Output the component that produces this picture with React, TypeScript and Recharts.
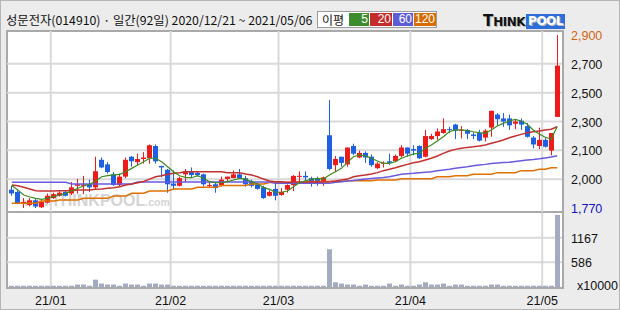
import { Bar, CartesianGrid, ComposedChart, Line, XAxis, YAxis } from "recharts";

// daily prices, 2020/12/21 .. 2021/05/06 (92 sessions)
const OPEN = [
  1890, 1875, 1800, 1790, 1820, 1775, 1805, 1835, 1850, 1875,
  1865, 1915, 1915, 1925, 1905, 2085, 2055, 1990, 1920, 1975,
  2105, 2070, 2090, 2095, 2175, 2045, 2020, 1930, 1915, 1990,
  2010, 2000, 1990, 1915, 1925, 1920, 1960, 1965, 1990, 1965,
  1945, 1925, 1905, 1850, 1895, 1855, 1890, 1920, 1975, 1980,
  1965, 1960, 1940, 2245, 2050, 2105, 2055, 2175, 2100, 2130,
  2105, 2030, 2060, 2075, 2075, 2110, 2165, 2155, 2175, 2105,
  2220, 2240, 2260, 2285, 2315, 2275, 2280, 2250, 2260, 2230,
  2295, 2380, 2355, 2355, 2320, 2340, 2305, 2230, 2175, 2215,
  2145, 2365,
];
const HIGH = [
  1915, 1885, 1835, 1835, 1835, 1820, 1865, 1870, 1880, 1885,
  1940, 1960, 1980, 1955, 2105, 2100, 2070, 2005, 1995, 2100,
  2110, 2125, 2135, 2185, 2185, 2045, 2025, 2015, 1975, 2025,
  2035, 2010, 1995, 1940, 1935, 1975, 1975, 2015, 2025, 1980,
  1955, 1935, 1915, 1885, 1940, 1900, 1925, 1985, 2010, 2010,
  1975, 1975, 1975, 2475, 2110, 2105, 2165, 2190, 2145, 2140,
  2120, 2070, 2075, 2125, 2120, 2180, 2165, 2180, 2180, 2280,
  2255, 2290, 2355, 2300, 2320, 2305, 2285, 2265, 2280, 2285,
  2405, 2390, 2390, 2380, 2350, 2355, 2325, 2240, 2295, 2230,
  2260, 2900,
];
const LOW = [
  1850, 1795, 1770, 1780, 1770, 1770, 1800, 1830, 1845, 1845,
  1855, 1865, 1860, 1875, 1890, 2030, 1995, 1915, 1910, 1965,
  2040, 2050, 2060, 2060, 2060, 1970, 1870, 1890, 1910, 1940,
  1970, 1975, 1910, 1900, 1870, 1910, 1940, 1965, 1960, 1910,
  1905, 1890, 1830, 1845, 1820, 1850, 1870, 1880, 1940, 1945,
  1910, 1915, 1915, 2015, 2005, 2040, 2040, 2115, 2095, 2065,
  2040, 2025, 2035, 2050, 2070, 2100, 2105, 2115, 2090, 2100,
  2215, 2215, 2255, 2260, 2220, 2225, 2220, 2220, 2205, 2205,
  2235, 2310, 2300, 2280, 2285, 2280, 2230, 2160, 2155, 2165,
  2115, 2365,
];
const CLOSE = [
  1865, 1800, 1810, 1820, 1780, 1810, 1850, 1860, 1870, 1850,
  1905, 1925, 1925, 1905, 2010, 2035, 2005, 1920, 1975, 2085,
  2075, 2090, 2100, 2180, 2075, 2035, 1925, 1915, 1965, 2010,
  1985, 1985, 1925, 1920, 1900, 1955, 1975, 1990, 1965, 1925,
  1915, 1895, 1835, 1875, 1850, 1875, 1920, 1980, 1980, 1970,
  1935, 1930, 1970, 2025, 2090, 2065, 2165, 2125, 2130, 2100,
  2050, 2060, 2065, 2065, 2110, 2165, 2125, 2145, 2095, 2240,
  2240, 2270, 2285, 2280, 2275, 2280, 2255, 2240, 2210, 2275,
  2405, 2350, 2335, 2310, 2335, 2315, 2235, 2185, 2215, 2170,
  2260, 2700,
];
// volume, x10000 shares
const VOLUME = [
  30, 30, 30, 30, 30, 30, 30, 30, 30, 30,
  30, 58, 58, 30, 174, 81, 58, 58, 30, 81,
  58, 58, 30, 81, 81, 58, 58, 30, 30, 30,
  30, 30, 30, 30, 30, 30, 30, 30, 30, 30,
  30, 30, 30, 30, 30, 30, 30, 30, 30, 30,
  30, 30, 30, 895, 112, 81, 58, 58, 30, 58,
  30, 30, 30, 81, 30, 58, 30, 30, 58, 112,
  58, 58, 81, 30, 58, 58, 30, 30, 30, 30,
  58, 58, 30, 30, 30, 30, 30, 30, 30, 30,
  30, 1708,
];

const MA5 = [
  1917, 1888, 1855, 1842, 1833, 1827, 1835, 1844, 1855, 1866,
  1881, 1899, 1914, 1925, 1946, 1974, 1981, 1986, 1990, 2007,
  2029, 2051, 2072, 2095, 2095, 2072, 2040, 2007, 1981, 1970,
  1968, 1981, 1964, 1942, 1935, 1935, 1942, 1953, 1964, 1957,
  1942, 1927, 1905, 1892, 1873, 1873, 1881, 1909, 1935, 1948,
  1959, 1964, 1959, 1986, 2007, 2029, 2068, 2105, 2116, 2110,
  2095, 2077, 2062, 2062, 2072, 2095, 2110, 2123, 2127, 2160,
  2182, 2208, 2236, 2268, 2280, 2280, 2275, 2268, 2262, 2258,
  2280, 2306, 2323, 2338, 2349, 2338, 2317, 2280, 2253, 2232,
  2221, 2302,
];
const MA20 = [
  1920, 1916, 1905, 1894, 1883, 1881, 1881, 1881, 1883, 1883,
  1883, 1888, 1888, 1888, 1892, 1894, 1899, 1903, 1909, 1920,
  1927, 1935, 1943, 1959, 1974, 1981, 1990, 1997, 2001, 2007,
  2007, 2007, 2007, 2007, 2007, 2007, 2001, 2001, 2001, 1992,
  1986, 1974, 1959, 1946, 1942, 1942, 1938, 1940, 1940, 1940,
  1940, 1940, 1940, 1942, 1946, 1953, 1959, 1974, 1981, 1986,
  1992, 2001, 2014, 2023, 2033, 2044, 2055, 2066, 2072, 2084,
  2095, 2110, 2127, 2142, 2153, 2160, 2166, 2170, 2175, 2182,
  2193, 2203, 2214, 2229, 2240, 2251, 2262, 2268, 2273, 2280,
  2284, 2301,
];
const MA60 = [
  1938, 1938, 1938, 1938, 1938, 1938, 1938, 1938, 1938, 1938,
  1927, 1927, 1927, 1927, 1927, 1927, 1927, 1927, 1927, 1927,
  1927, 1940, 1940, 1940, 1940, 1940, 1940, 1940, 1940, 1940,
  1940, 1940, 1940, 1940, 1940, 1940, 1940, 1940, 1940, 1940,
  1940, 1940, 1940, 1940, 1931, 1931, 1931, 1931, 1931, 1931,
  1931, 1931, 1931, 1931, 1938, 1942, 1946, 1950, 1955, 1959,
  1963, 1966, 1969, 1974, 1982, 1990, 1994, 1997, 2001, 2004,
  2007, 2013, 2018, 2023, 2029, 2035, 2040, 2046, 2051, 2055,
  2060, 2064, 2067, 2069, 2074, 2079, 2084, 2087, 2091, 2097,
  2103, 2112,
];
const MA120 = [
  1801, 1801, 1801, 1801, 1801, 1816, 1816, 1816, 1822, 1822,
  1822, 1822, 1833, 1833, 1833, 1833, 1833, 1848, 1848, 1848,
  1866, 1866, 1866, 1881, 1881, 1881, 1881, 1894, 1894, 1894,
  1894, 1905, 1905, 1905, 1905, 1917, 1917, 1917, 1917, 1917,
  1927, 1927, 1927, 1937, 1937, 1937, 1937, 1937, 1937, 1937,
  1943, 1943, 1943, 1943, 1943, 1943, 1948, 1948, 1948, 1948,
  1948, 1953, 1953, 1953, 1953, 1961, 1961, 1961, 1961, 1961,
  1961, 1974, 1974, 1974, 1981, 1981, 1981, 1990, 1990, 1990,
  1990, 2001, 2001, 2001, 2001, 2014, 2014, 2014, 2023, 2023,
  2033, 2033,
];

// index of the first session of each month
const MONTH_FIRST = [7, 27, 45, 67, 89];
const MONTH_LABELS = ["21/01", "21/02", "21/03", "21/04", "21/05"];

const PRICE_LOW = 1770;
const PRICE_HIGH = 2900;
const PRICE_LABELS = ["1,770", "2,000", "2,100", "2,300", "2,500", "2,700", "2,900"];
const VOLUME_TICKS = [0, 586, 1167];
const VOLUME_LABELS = ["x10000", "586", "1167"];

const LEGEND = [
  { label: "5", color: "#3d8b2d", w: 20 },
  { label: "20", color: "#c42b2b", w: 22 },
  { label: "60", color: "#5c5cd6", w: 20 },
  { label: "120", color: "#d96b00", w: 22 },
];

const RED = "#ee1b1b";
const BLUE = "#1f5fe3";
const GRID = "#d9d9d9";
const NUM_FONT = "'Liberation Sans', Arial, sans-serif";
const KR_FONT = "'Noto Sans CJK KR', sans-serif";

// thinkpool splits the price range into 6 equal rows
const PRICE_TICKS = PRICE_LABELS.map(
  (_, k) => PRICE_LOW + ((PRICE_HIGH - PRICE_LOW) * k) / 6
);
const PRICE_PAD = 26;
const MONTH_LINES = MONTH_FIRST.map((m) => m - 0.5);
const X_DOMAIN: [number, number] = [-0.8, CLOSE.length - 0.2];

const rows = CLOSE.map((c, i) => ({
  i,
  open: OPEN[i],
  high: HIGH[i],
  low: LOW[i],
  close: c,
  range: [LOW[i], HIGH[i]],
  vol: VOLUME[i],
  ma5: MA5[i],
  ma20: MA20[i],
  ma60: MA60[i],
  ma120: MA120[i],
}));

function Candle(props: any) {
  const { x, y, width, height, payload } = props;
  if (x == null || y == null || !payload) return null;
  const top = Math.min(y, y + height);
  const h = Math.abs(height);
  const span = payload.high - payload.low;
  const toY = (v: number) => (span ? top + ((payload.high - v) / span) * h : top);
  const color = payload.close >= payload.open ? RED : BLUE;
  const cx = Math.round(x + width / 2) + 0.5;
  const bTop = toY(Math.max(payload.open, payload.close));
  const bBot = toY(Math.min(payload.open, payload.close));
  return (
    <g>
      <line x1={cx} x2={cx} y1={top} y2={top + h} stroke={color} strokeWidth={1} />
      <rect x={cx - 2.5} y={bTop} width={5} height={Math.max(1, bBot - bTop)} fill={color} />
    </g>
  );
}

function VolBar(props: any) {
  const { x, y, width, height } = props;
  if (x == null || y == null) return null;
  const cx = Math.round(x + width / 2);
  return <rect x={cx - 2} y={y} width={5} height={Math.max(1, height)} fill="#a3abc3" />;
}

function PriceTick(props: any) {
  const { x, y, payload } = props;
  const k = PRICE_TICKS.indexOf(payload.value);
  const color = k === PRICE_LABELS.length - 1 ? "#d2640f" : k === 0 ? "#1010c8" : "#111";
  return (
    <text x={x + 9} y={y + 5} fill={color} fontSize={12.5} fontFamily={NUM_FONT}>
      {PRICE_LABELS[k]}
    </text>
  );
}

function VolumeTick(props: any) {
  const { x, y, payload } = props;
  const k = VOLUME_TICKS.indexOf(payload.value);
  return (
    <text x={x + (k === 0 ? 15 : 9)} y={y + (k === 0 ? 3 : 5)} fill="#111" fontSize={12.5} fontFamily={NUM_FONT}>
      {VOLUME_LABELS[k]}
    </text>
  );
}

function MonthTick(props: any) {
  const { x, y, payload } = props;
  const k = MONTH_LINES.indexOf(payload.value);
  return (
    <text x={x} y={y + 18} textAnchor="middle" fill="#111" fontSize={12.5} fontFamily={NUM_FONT}>
      {MONTH_LABELS[k]}
    </text>
  );
}

export default function App() {
  return (
    <div
      style={{
        position: "absolute",
        left: 0,
        top: 0,
        width: 620,
        height: 310,
        background: "#ececec",
        overflow: "hidden",
      }}
    >
      {/* header */}
      <div
        style={{
          position: "absolute",
          left: 6,
          top: 11,
          fontFamily: KR_FONT,
          fontSize: 12.3,
          color: "#111",
          whiteSpace: "nowrap",
          lineHeight: "18px",
        }}
      >
        성문전자(014910) · 일간(92일) 2020/12/21 ~ 2021/05/06
      </div>
      <div
        style={{
          position: "absolute",
          left: 317,
          top: 11,
          width: 120,
          height: 17,
          background: "#fff",
          border: "1px solid #9c9c9c",
          boxSizing: "border-box",
          display: "flex",
          alignItems: "center",
          gap: 1,
          paddingLeft: 4,
          fontFamily: KR_FONT,
          fontSize: 12,
        }}
      >
        <span style={{ width: 26, color: "#111" }}>이평</span>
        {LEGEND.map((l) => (
          <span
            key={l.label}
            style={{
              width: l.w,
              height: 13,
              background: l.color,
              color: "#fff",
              textAlign: "right",
              fontFamily: NUM_FONT,
              fontSize: 12,
              lineHeight: "13px",
              paddingRight: 1,
              boxSizing: "border-box",
            }}
          >
            {l.label}
          </span>
        ))}
      </div>
      <div
        style={{
          position: "absolute",
          left: 483,
          top: 11,
          display: "flex",
          alignItems: "flex-end",
          fontFamily: "'DejaVu Sans', sans-serif",
          fontWeight: 900,
          height: 18,
          textShadow: "1px 1px 0 #bbb",
        }}
      >
        <span style={{ fontSize: 15, lineHeight: "15px", color: "#111" }}>T</span>
        <span style={{ fontSize: 12, lineHeight: "13px", color: "#111", letterSpacing: -0.5 }}>HINK</span>
        <span
          style={{
            fontSize: 12,
            lineHeight: "15px",
            color: "#fff",
            background: "#2f6ed8",
            padding: "0 2px",
            marginLeft: 1,
            letterSpacing: -0.5,
          }}
        >
          POOL
        </span>
      </div>

      {/* panels */}
      <div
        style={{
          position: "absolute",
          left: 6,
          top: 30,
          width: 558,
          height: 183,
          background: "#fff",
          border: "2px solid #a9a9a9",
          boxSizing: "border-box",
        }}
      />
      <div
        style={{
          position: "absolute",
          left: 6,
          top: 211,
          width: 558,
          height: 78,
          background: "#fff",
          border: "2px solid #a9a9a9",
          boxSizing: "border-box",
        }}
      />
      <div
        style={{
          position: "absolute",
          left: 24,
          top: 193,
          whiteSpace: "nowrap",
          color: "#d4d4d4",
          fontFamily: NUM_FONT,
          fontWeight: 700,
          lineHeight: "16px",
        }}
      >
        <span style={{ fontSize: 10.5 }}>www.</span>
        <span style={{ fontSize: 16 }}>THINKPOOL</span>
        <span style={{ fontSize: 10.5 }}>.com</span>
      </div>

      {/* price */}
      <div style={{ position: "absolute", left: 0, top: 0 }}>
        <ComposedChart
          width={620}
          height={310}
          data={rows}
          margin={{ top: 31, right: 0, bottom: 98, left: 7 }}
        >
          <CartesianGrid
            stroke={GRID}
            strokeWidth={2}
            horizontalValues={PRICE_TICKS.slice(1, -1)}
            verticalValues={MONTH_LINES}
          />
          <XAxis dataKey="i" type="number" domain={X_DOMAIN} hide allowDataOverflow />
          <YAxis
            orientation="right"
            domain={[PRICE_LOW - PRICE_PAD, PRICE_HIGH + PRICE_PAD]}
            ticks={PRICE_TICKS}
            interval={0}
            width={58}
            axisLine={false}
            tickLine={false}
            tickSize={0}
            tickMargin={0}
            tick={<PriceTick />}
            allowDataOverflow
          />
          <Bar dataKey="range" barSize={5} shape={<Candle />} isAnimationActive={false} />
          <Line dataKey="ma120" stroke="#e07000" strokeWidth={1.5} dot={false} isAnimationActive={false} />
          <Line dataKey="ma60" stroke="#6a5ae0" strokeWidth={1.5} dot={false} isAnimationActive={false} />
          <Line dataKey="ma20" stroke="#c43030" strokeWidth={1.5} dot={false} isAnimationActive={false} />
          <Line dataKey="ma5" stroke="#3d8b1e" strokeWidth={1.2} dot={false} isAnimationActive={false} />
        </ComposedChart>
      </div>

      {/* volume */}
      <div style={{ position: "absolute", left: 0, top: 0 }}>
        <ComposedChart
          width={620}
          height={310}
          data={rows}
          margin={{ top: 213, right: 0, bottom: 1, left: 7 }}
        >
          <CartesianGrid
            stroke={GRID}
            strokeWidth={2}
            horizontalValues={VOLUME_TICKS.slice(1)}
            verticalValues={MONTH_LINES}
          />
          <XAxis
            dataKey="i"
            type="number"
            domain={X_DOMAIN}
            ticks={MONTH_LINES}
            interval={0}
            height={22}
            axisLine={false}
            tickLine={false}
            tickSize={0}
            tickMargin={0}
            tick={<MonthTick />}
            allowDataOverflow
          />
          <YAxis
            orientation="right"
            domain={[0, 1754]}
            ticks={VOLUME_TICKS}
            interval={0}
            width={58}
            axisLine={false}
            tickLine={false}
            tickSize={0}
            tickMargin={0}
            tick={<VolumeTick />}
            allowDataOverflow
          />
          <Bar dataKey="vol" barSize={5} shape={<VolBar />} isAnimationActive={false} />
        </ComposedChart>
      </div>

      <div
        style={{
          position: "absolute",
          inset: 0,
          border: "1px solid #b5b5b5",
          pointerEvents: "none",
        }}
      />
    </div>
  );
}
